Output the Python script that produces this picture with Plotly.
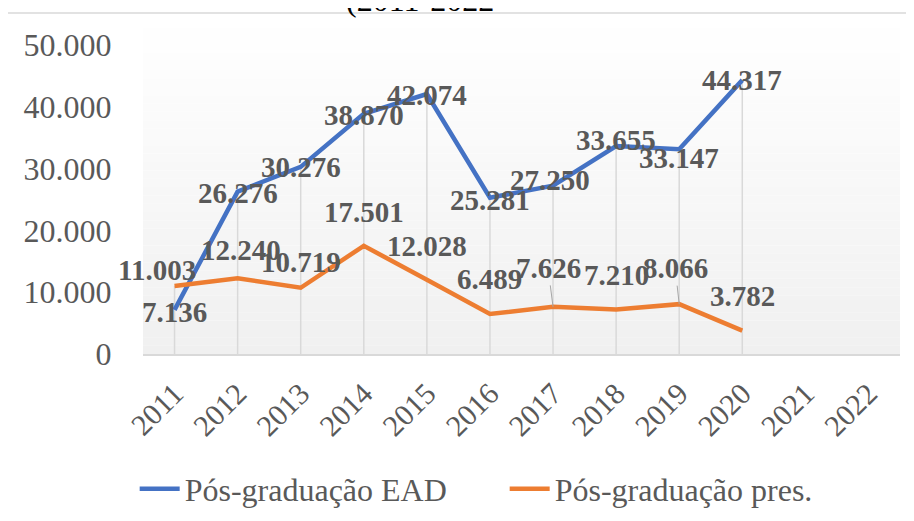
import plotly.graph_objects as go

# ---- data ----
years = ["2011", "2012", "2013", "2014", "2015", "2016", "2017", "2018", "2019", "2020", "2021", "2022"]
ead_values = [7136, 26276, 30276, 38870, 42074, 25281, 27250, 33655, 33147, 44317, None, None]
pres_values = [11003, 12240, 10719, 17501, 12028, 6489, 7626, 7210, 8066, 3782, None, None]
ead_name = "Pós-graduação EAD"
pres_name = "Pós-graduação pres."
title_text = "(2011-2022"
y_tick_values = [0, 10000, 20000, 30000, 40000, 50000]
y_tick_labels = ["0", "10.000", "20.000", "30.000", "40.000", "50.000"]

# label offsets (pixels: dx right, dy up) - styling only
ead_offsets = [(0, -2), (0, -1), (0, 0), (0, -1), (0, -1), (0, -2), (-3, 6), (0, 6), (0, -9), (0, 0)]
pres_offsets = [(-18, 16), (3, 28), (0, 26), (0, 34), (0, 34), (0, 35), (-5, 39), (0, 34), (-4, 36), (0, 35)]
leader_idx = {6, 8}

BLUE = "#4472C4"
ORANGE = "#ED7D31"
GRID = "#D9D9D9"
TXT = "#595959"
FONT = "Liberation Serif"


def fmt(v):
    return f"{v:,}".replace(",", ".")


fig = go.Figure()

# drop lines from axis to highest point
dx, dy = [], []
for yr, a, b in zip(years, ead_values, pres_values):
    vals = [v for v in (a, b) if v is not None]
    if vals:
        dx += [yr, yr, None]
        dy += [0, max(vals), None]
fig.add_trace(go.Scatter(x=dx, y=dy, mode="lines", line=dict(color=GRID, width=1.5),
                         showlegend=False, hoverinfo="skip"))

fig.add_trace(go.Scatter(x=years, y=ead_values, mode="lines", name=ead_name,
                         line=dict(color=BLUE, width=4.5)))
fig.add_trace(go.Scatter(x=years, y=pres_values, mode="lines", name=pres_name,
                         line=dict(color=ORANGE, width=4.5)))

annotations = []
lab_font = dict(family=FONT, size=29, color=TXT)
for i, v in enumerate(ead_values):
    if v is None:
        continue
    ox, oy = ead_offsets[i]
    annotations.append(dict(x=i, y=v, xref="x", yref="y", text="<b>" + fmt(v) + "</b>",
                            showarrow=False, xshift=ox, yshift=oy, font=lab_font))
for i, v in enumerate(pres_values):
    if v is None:
        continue
    ox, oy = pres_offsets[i]
    if i in leader_idx:
        annotations.append(dict(x=i, y=v, xref="x", yref="y", text="<b>" + fmt(v) + "</b>",
                                showarrow=True, ax=ox, ay=-oy, arrowhead=0, arrowwidth=1,
                                arrowcolor="#A6A6A6", standoff=0, font=lab_font))
    else:
        annotations.append(dict(x=i, y=v, xref="x", yref="y", text="<b>" + fmt(v) + "</b>",
                                showarrow=False, xshift=ox, yshift=oy, font=lab_font))

# cut-off title
annotations.append(dict(x=0.366, y=1.082, xref="paper", yref="paper", text=title_text,
                        showarrow=False, xanchor="center", yanchor="bottom",
                        font=dict(family=FONT, size=32, color="#000000")))

# plot-area gradient background
shapes = []
n = 40
top, bot = 1.081, 0.0
for k in range(n):
    t = (k + 0.5) / n
    c = int(round(255 - 15 * t))
    y1 = top - (top - bot) * k / n
    y0 = top - (top - bot) * (k + 1) / n
    shapes.append(dict(type="rect", xref="paper", yref="paper", x0=0, x1=1, y0=y0, y1=y1,
                       fillcolor=f"rgb({c},{c},{c})", line=dict(width=0), layer="below"))
# chart outer border
shapes.append(dict(type="rect", xref="paper", yref="paper", x0=-0.1797, x1=1.2, y0=-0.7, y1=1.1036,
                   line=dict(color=GRID, width=1.5), fillcolor="rgba(0,0,0,0)", layer="below"))

fig.update_layout(
    width=914, height=521,
    margin=dict(l=135, r=22, t=37, b=175),
    paper_bgcolor="white", plot_bgcolor="rgba(0,0,0,0)",
    font=dict(family=FONT, color=TXT, size=32),
    showlegend=True,
    legend=dict(orientation="h", x=-0.011, xanchor="left", y=-0.437, yanchor="middle",
                font=dict(family=FONT, size=32, color=TXT), bgcolor="rgba(0,0,0,0)",
                entrywidth=315, entrywidthmode="pixels", itemwidth=40),
    annotations=annotations,
    shapes=shapes,
)
fig.update_xaxes(type="category", categoryorder="array", categoryarray=years,
                 range=[-0.5, len(years) - 0.5], showgrid=False, zeroline=False,
                 showline=True, linecolor=GRID, linewidth=2, tickangle=-45,
                 ticks="outside", ticklen=8, tickcolor="rgba(0,0,0,0)",
                 tickfont=dict(family=FONT, size=30, color=TXT), automargin=False)
fig.update_yaxes(range=[0, 50000], tickvals=y_tick_values, ticktext=y_tick_labels,
                 showgrid=False, zeroline=False, showline=False,
                 ticks="outside", ticklen=24, tickcolor="rgba(0,0,0,0)",
                 tickfont=dict(family=FONT, size=32, color=TXT), automargin=False)

fig.write_html("out.html")
